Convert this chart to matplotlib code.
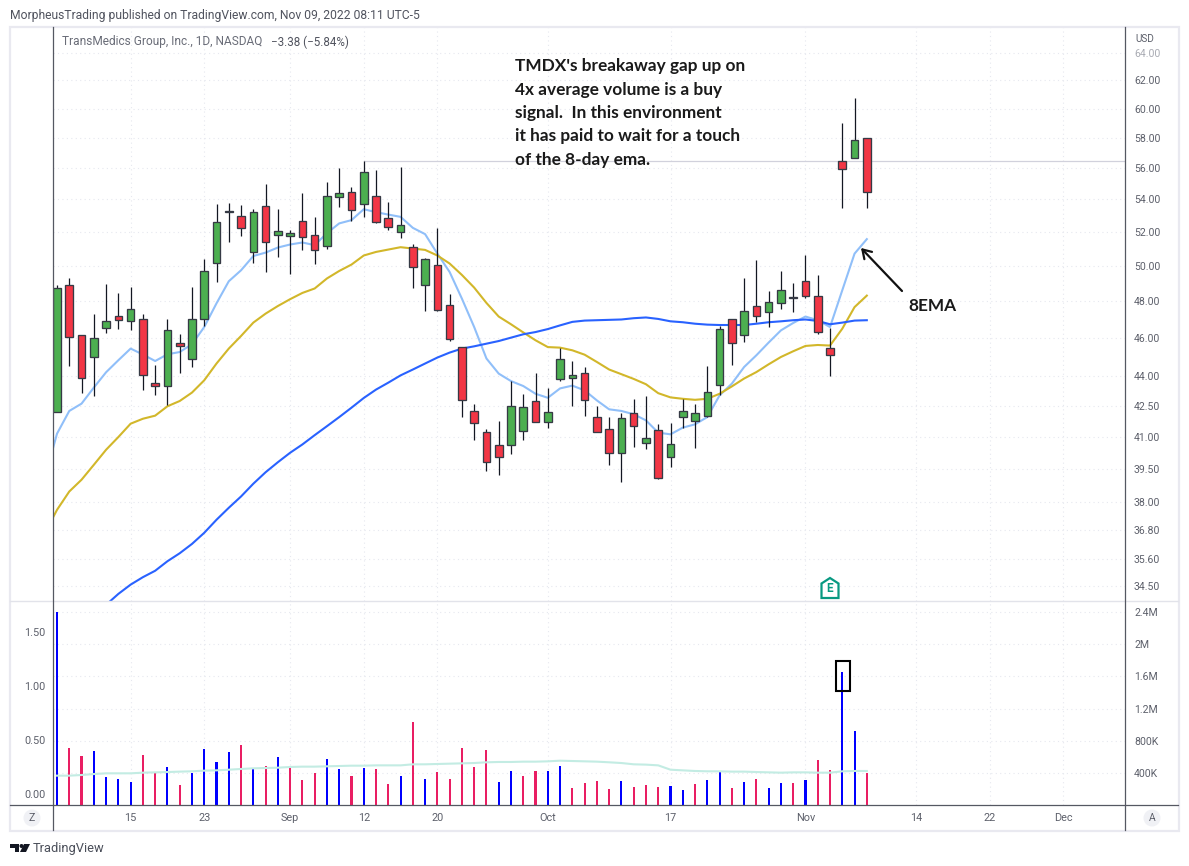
import matplotlib
matplotlib.use("Agg")
import matplotlib.pyplot as plt
from matplotlib.patches import Polygon, Circle, Rectangle
from matplotlib.ticker import FixedLocator, FixedFormatter, NullLocator

W, H = 1189, 866

opens = [42.20,48.92,46.16,44.98,46.52,47.19,46.90,46.98,43.66,43.49,45.74,44.88,47.03,50.16,53.20,52.95,50.81,53.62,51.83,51.77,
         52.64,51.79,51.17,54.13,54.45,53.73,54.19,52.88,52.01,51.11,48.92,50.07,47.80,45.50,42.25,41.23,40.63,40.61,41.30,42.75,
         41.73,43.85,43.90,44.17,41.97,41.39,40.23,42.17,40.70,41.34,40.05,41.97,41.78,42.02,43.54,47.03,46.16,47.74,47.41,47.91,
         48.24,49.10,48.25,45.47,56.44,56.63,57.96]
highs = [48.88,49.27,46.16,47.26,48.94,48.47,48.77,47.26,44.55,46.99,46.18,48.77,50.38,53.71,53.79,53.64,53.43,54.97,53.39,52.11,
         54.40,52.90,55.09,56.00,54.78,56.44,55.87,53.83,56.04,51.25,50.48,52.23,48.37,45.50,42.61,41.39,41.74,43.74,43.10,44.17,
         43.41,45.44,44.79,44.48,42.51,41.97,42.17,42.82,42.97,41.63,41.68,42.86,42.61,44.53,46.61,47.03,49.32,50.36,48.54,49.72,
         49.00,50.62,49.44,46.54,58.98,60.74,57.96]
lows = [42.18,44.50,43.13,42.97,46.25,46.45,46.39,43.27,43.02,42.52,44.15,44.45,46.61,49.06,51.39,51.75,50.15,49.64,50.51,49.53,
        50.91,50.10,50.99,53.54,52.64,52.92,52.56,52.11,51.63,48.73,47.43,47.43,45.82,41.95,40.83,39.39,39.22,40.17,40.83,41.71,
        41.42,43.74,42.48,42.00,41.23,39.66,38.89,40.50,40.41,39.04,39.58,41.40,40.47,41.95,43.03,44.55,45.77,46.83,46.57,47.54,
        47.37,48.19,46.19,43.99,53.47,56.63,53.47]
closes = [48.75,46.03,43.90,46.00,46.92,46.95,47.57,44.05,43.49,46.43,45.56,47.03,49.72,52.58,53.26,52.25,53.19,51.41,52.03,51.91,
          51.71,50.93,54.19,54.38,53.35,55.72,52.62,52.31,52.40,49.93,50.42,47.50,45.93,42.80,41.68,39.83,40.05,42.51,42.46,41.71,
          42.22,44.85,44.07,42.80,41.23,40.23,41.92,41.52,40.96,39.10,40.67,42.27,42.17,43.18,46.48,45.74,47.46,47.19,47.97,48.64,
          48.18,48.30,46.32,45.10,55.92,57.83,54.45]

# moving averages start one bar before the first visible candle
ema8 = [39.07,41.15,42.25,42.61,43.41,44.19,44.81,45.42,45.11,44.77,45.12,45.24,45.65,46.57,47.87,49.11,49.74,50.57,50.77,51.07,
        51.25,51.37,51.21,51.93,52.52,52.72,53.39,53.21,53.06,52.92,52.25,51.87,50.71,49.64,48.13,46.57,44.90,44.12,43.74,43.49,
        43.10,42.90,43.37,43.51,43.27,42.77,42.33,42.25,42.09,41.79,41.20,41.12,41.44,41.60,41.95,43.02,43.61,44.46,45.07,45.74,
        46.39,46.79,47.14,46.94,46.57,48.60,50.71,51.57]
ema21 = [36.66,37.67,38.48,39.01,39.69,40.39,40.99,41.63,41.87,42.02,42.48,42.74,43.16,43.78,44.64,45.42,46.09,46.81,47.30,47.72,
         48.10,48.45,48.70,49.27,49.70,50.07,50.60,50.81,50.95,51.09,51.01,50.93,50.60,50.13,49.47,48.75,47.89,47.14,46.72,46.28,
         45.86,45.50,45.47,45.33,45.10,44.72,44.33,44.09,43.85,43.58,43.13,42.92,42.85,42.80,42.85,43.10,43.47,43.87,44.20,44.60,
         44.98,45.28,45.56,45.61,45.58,46.48,47.66,48.30]
# the slow average enters the pane at bar 4
sma50 = [33.74,34.17,34.54,34.84,35.10,35.49,35.82,36.21,36.68,37.24,37.76,38.26,38.83,39.35,39.81,40.25,40.64,41.08,41.51,41.95,
         42.41,42.89,43.31,43.66,44.03,44.33,44.64,44.95,45.21,45.42,45.54,45.68,45.82,46.00,46.18,46.30,46.46,46.66,46.85,46.92,
         46.94,46.96,46.98,47.05,47.09,47.01,46.88,46.83,46.75,46.70,46.68,46.68,46.68,46.75,46.83,46.88,46.94,46.98,46.90,46.72,
         46.81,46.92,46.94]

volume_k = [2404,713,613,676,352,327,290,626,394,477,253,402,700,539,663,750,452,489,601,464,
            315,402,576,452,365,464,452,265,365,1036,327,415,327,713,477,688,290,427,365,427,
            427,489,216,278,303,203,303,228,253,228,240,191,265,315,415,216,290,327,216,278,
            278,315,564,439,1658,924,402]
volume_up = [1,0,0,1,1,1,1,0,0,1,0,1,1,1,1,0,1,0,1,0,
             0,0,1,1,0,1,0,0,1,0,1,0,0,0,0,0,1,1,0,0,
             1,1,0,0,0,0,1,0,0,0,1,1,0,1,1,0,1,0,1,1,
             0,1,0,0,1,1,0]
volume_ma_k = [365,365,373,385,394,394,394,402,406,410,415,419,427,431,439,448,456,460,464,473,
               477,477,481,485,489,489,493,493,493,506,506,510,514,518,522,531,535,535,539,539,
               543,551,547,543,539,531,522,506,502,493,439,431,423,419,419,415,415,410,406,402,
               406,406,402,402,419,423,423]

date_idx = [6,12,19,25,31,40,50,61,70,76,82]
date_labels = ["15","23","Sep","12","20","Oct","17","Nov","14","22","Dec"]
price_ticks = [34.5,35.6,36.8,38,39.5,41,42.5,44,46,48,50,52,54,56,58,60,62,64]
vol_ticks_k = [400,800,1200,1600,2000,2400]
vol_tick_labels = ["400K","800K","1.2M","1.6M","2M","2.4M"]
ratio_ticks = [0,0.5,1.0,1.5]
ratio_labels = ["0.00","0.50","1.00","1.50"]
resistance = 56.44
box_vol_k = (1418,1794)
box_bars = (63.46,64.63)

TOP, DIV, BOT, LEFT, RIGHT = 27, 601, 805, 53, 1125
BAR0, STEP = 57.0, 12.27
GREEN, RED, EDGE = "#4caf50", "#f23645", "#363a45"
GRID = "#e6e8ef"
LABEL = "#5d606b"
plt.rcParams["font.family"] = ["Roboto", "DejaVu Sans"]

fig = plt.figure(figsize=(W / 100, H / 100), dpi=100, facecolor="white")


def pane(top, bottom):
    return fig.add_axes([LEFT / W, 1 - bottom / H, (RIGHT - LEFT) / W, (bottom - top) / H])


xlim = ((LEFT - BAR0) / STEP, (RIGHT - BAR0) / STEP)

ax = pane(TOP, DIV)
ax.set_yscale("log")
ax.set_xlim(xlim)
ax.set_ylim(33.89, 65.96)
vol = pane(DIV, BOT)
vol.set_xlim(xlim)
vol.set_ylim(0, 2537)

# left ratio scale
ratio = vol.twinx()
ratio.set_ylim(-0.102, 1.787)
ratio.yaxis.tick_left()
ratio.set_yticks(ratio_ticks)
ratio.set_yticklabels(ratio_labels)
ratio.tick_params(axis="y", length=0, labelsize=7.8, labelcolor=LABEL, pad=5.5)
ratio.patch.set_visible(False)
for s in ratio.spines.values():
    s.set_visible(False)

for a in (ax, vol):
    a.set_facecolor("none")
    for s in a.spines.values():
        s.set_visible(False)
    a.xaxis.set_major_locator(FixedLocator(date_idx))
    a.xaxis.set_minor_locator(NullLocator())
    a.yaxis.set_minor_locator(NullLocator())
    a.yaxis.tick_right()
    a.tick_params(axis="both", length=0, labelsize=7.6, labelcolor=LABEL, pad=6.5)
    a.tick_params(axis="x", labelbottom=False)
    a.grid(True, color=GRID, lw=0.8, ls=(0, (1, 3)))
    a.set_axisbelow(True)

ax.yaxis.set_major_locator(FixedLocator(price_ticks))
ax.yaxis.set_major_formatter(FixedFormatter([f"{p:.2f}" for p in price_ticks]))
vol.yaxis.set_major_locator(FixedLocator(vol_ticks_k))
vol.yaxis.set_major_formatter(FixedFormatter(vol_tick_labels))
for lab, p in zip(ax.get_yticklabels(), price_ticks):
    if p == 64:
        lab.set_color("#a9abb3")

# date labels below the volume pane
vol.tick_params(axis="x", labelbottom=True, pad=5.5, labelsize=7.8)
vol.set_xticklabels(date_labels)

# resistance line
ax.plot([25, xlim[1]], [resistance, resistance], color="#d1d1dc", lw=0.9, zorder=1.5)

# moving averages
ax.plot(range(-1, 67), ema8, color="#90bff9", lw=1.5, zorder=2)
ax.plot(range(-1, 67), ema21, color="#d2b72a", lw=1.5, zorder=2)
ax.plot(range(4, 67), sma50, color="#2962ff", lw=1.5, zorder=2)

# candles
for i, (o, h, l, c) in enumerate(zip(opens, highs, lows, closes)):
    ax.plot([i, i], [l, h], color="#131722", lw=0.9, zorder=3, solid_capstyle="butt")
    ax.bar(i, abs(c - o), bottom=min(o, c), width=0.62, color=GREEN if c >= o else RED,
           edgecolor=EDGE, linewidth=0.95, zorder=4)

# volume
vol.bar(range(67), volume_k, width=0.17,
        color=["#0000ff" if u else "#e91e63" for u in volume_up], zorder=3)
vol.plot(range(67), volume_ma_k, color="#c3ece3", lw=1.5, zorder=4)
vol.add_patch(Rectangle((box_bars[0], box_vol_k[0]), box_bars[1] - box_bars[0],
                        box_vol_k[1] - box_vol_k[0], fill=False, ec="black", lw=1.5, zorder=5))

# chrome in pixel coordinates
ch = fig.add_axes([0, 0, 1, 1], facecolor="none", zorder=10)
ch.set_xlim(0, W)
ch.set_ylim(H, 0)
ch.axis("off")
FRAME = "#e9e9f0"
ch.add_patch(Rectangle((10, TOP), 1168.5, 803.5, fill=False, ec=FRAME, lw=1.6))
ch.plot([10, 1178], [DIV, DIV], color="#e2e3ea", lw=1.0)
ch.plot([10, 1178], [BOT, BOT], color="#555862", lw=0.9)
ch.plot([LEFT, LEFT], [TOP, 830], color="#555862", lw=0.9)
ch.plot([RIGHT, RIGHT], [TOP, 830], color="#555862", lw=0.9)
for cx, s in ((32, "Z"), (1152, "A")):
    ch.add_patch(Circle((cx, 818), 8.5, fc="#f0f1f5", ec="none"))
    ch.text(cx, 818, s, ha="center", va="center", fontsize=7.5, color=LABEL)

ch.text(10, 15, "MorpheusTrading published on TradingView.com, Nov 09, 2022 08:11 UTC-5",
        fontsize=8.76, color="#50535e", va="center")
ch.text(62, 42, "TransMedics Group, Inc., 1D, NASDAQ", fontsize=8.6, color="#6a6d78", va="center")
ch.text(271, 42, "\u22123.38 (\u22125.84%)", fontsize=8.4, color="#50535e", va="center")
ch.text(1135, 39.5, "USD", fontsize=7.2, color=LABEL, va="center")

note = ["TMDX's breakaway gap up on", "4x average volume is a buy", "signal.  In this environment",
        "it has paid to wait for a touch", "of the 8-day ema."]
for y, line in zip([66, 90, 113, 136, 160], note):
    ch.text(515, y, line, fontsize=12.4, fontweight="bold", family="Lato", color="#1a1a1a", va="center")
ch.text(908, 306, "8EMA", fontsize=12.4, fontweight="bold", family="Lato", color="#1a1a1a", va="center")
ch.annotate("", xy=(861, 248), xytext=(902, 291),
            arrowprops=dict(arrowstyle="->,head_length=0.6,head_width=0.38", lw=1.6, color="#111111",
                            shrinkA=0, shrinkB=0))

# earnings marker
TEAL = "#089981"
ch.add_patch(Polygon([(821.5, 598), (821.5, 583.5), (830, 578), (838.5, 583.5), (838.5, 598)],
                     closed=True, fc="white", ec=TEAL, lw=1.6, zorder=5))
ch.text(830, 589, "E", ha="center", va="center", fontsize=8.5, color=TEAL, fontweight="bold", zorder=6)

# TradingView logo
DARK = "#131722"
ch.add_patch(Polygon([(10, 844), (19, 844), (19, 852), (15, 852), (15, 848), (10, 848)], fc=DARK, ec="none"))
ch.add_patch(Circle((21.5, 846), 2, fc=DARK, ec="none"))
ch.add_patch(Polygon([(24, 844), (30, 844), (26, 852), (20, 852)], fc=DARK, ec="none"))
ch.text(33, 848.5, "TradingView", fontsize=9.3, color="#4a4e59", va="center")

fig.savefig("out.png", dpi=100, facecolor="white")
